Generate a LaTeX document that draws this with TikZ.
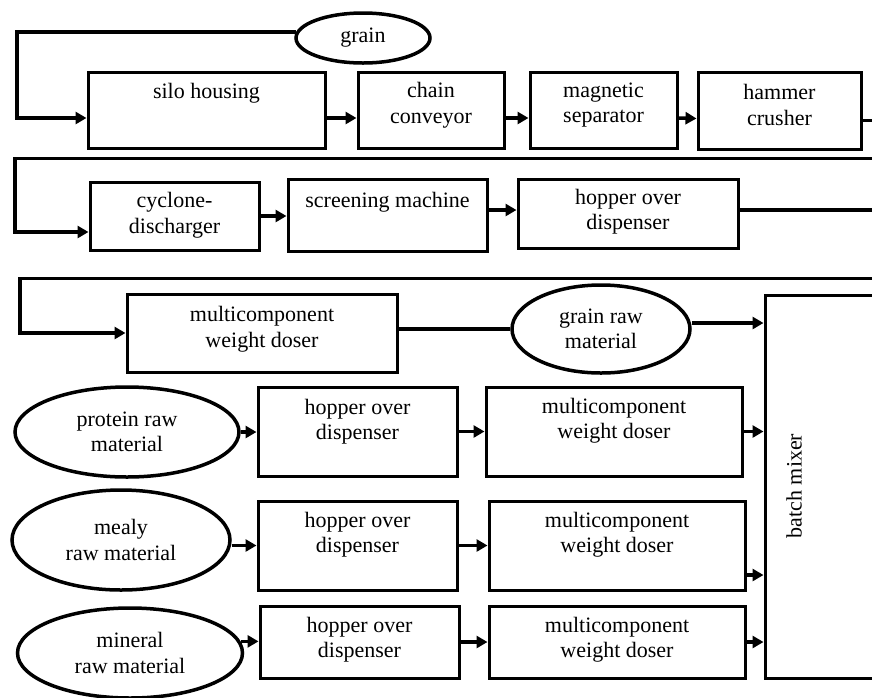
\documentclass[tikz,border=0pt]{standalone}
\usepackage{fontspec}
\setmainfont{Liberation Serif}
\usetikzlibrary{shapes.geometric,arrows.meta}
\begin{document}
\begin{tikzpicture}[x=1pt,y=-1pt,
  box/.style={draw, line width=3pt, rectangle, inner sep=0pt},
  oval/.style={draw, line width=3.5pt, ellipse, inner sep=0pt, align=center,
    font=\fontsize{22}{25.5}\selectfont},
  txt/.style={align=center, inner sep=0pt, font=\fontsize{22}{25.5}\selectfont},
  flow/.style={line width=3.5pt, -{Triangle[length=11pt,width=12pt]}},
  link/.style={line width=3.5pt}]
\useasboundingbox (0,0) rectangle (872,697);
\clip (0,0) rectangle (872,697);
\fill[white] (0,0) rectangle (872,697);

% helper coordinates for the return lines
\coordinate (k1) at (17,0);
\coordinate (r1) at (880,0);
\coordinate (l2) at (15,158.5);
\coordinate (l3) at (20,278.5);

% ---- first line of machines
\node[oval, minimum width=134pt, minimum height=50pt] (grain) at (363,38) {grain};
\node[box, minimum width=237pt, minimum height=76pt] (silo) at (206.5,110) {};
\node[txt] (silo-t) at (206.5,93) {silo housing};
\node[box, minimum width=146pt, minimum height=76pt] (chain) at (431,110) {};
\node[txt] (chain-t) at (431,105) {chain\\conveyor};
\node[box, minimum width=147pt, minimum height=76pt] (magnet) at (603.5,110) {};
\node[txt] (magnet-t) at (603.5,105) {magnetic\\separator};
\node[box, minimum width=163pt, minimum height=77pt] (hammer) at (779.5,110.5) {};
\node[txt] (hammer-t) at (779.5,105) {hammer\\crusher};

% ---- second line
\node[box, minimum width=169pt, minimum height=68pt] (cyclone) at (174.5,216) {};
\node[txt] (cyclone-t) at (174.5,215) {cyclone-\\discharger};
\node[box, minimum width=199pt, minimum height=72pt] (screen) at (387.5,215) {};
\node[txt] (screen-t) at (387.5,202) {screening machine};
\node[box, minimum width=220pt, minimum height=69pt] (hopper1) at (628,213.5) {};
\node[txt] (hopper1-t) at (628,211.5) {hopper over\\dispenser};

% ---- third line
\node[box, minimum width=270pt, minimum height=78pt] (doser1) at (262,333) {};
\node[txt] (doser1-t) at (262,329) {multicomponent\\weight doser};
\node[oval, minimum width=178pt, minimum height=88pt] (grainraw) at (601,329) {grain raw\\material};

% ---- batch mixer
\node[box, minimum width=120pt, minimum height=383pt] (mixer) at (825,486.5) {};
\node[txt, rotate=90] (mixer-t) at (794,486) {batch mixer};

% ---- additive lines
\node[oval, minimum width=224pt, minimum height=90pt] (protein) at (127,432) {protein raw\\material};
\node[box, minimum width=199pt, minimum height=89pt] (hopper2) at (357.5,431.5) {};
\node[txt] (hopper2-t) at (357.5,421.5) {hopper over\\dispenser};
\node[box, minimum width=256pt, minimum height=89pt] (doser2) at (614,431.5) {};
\node[txt] (doser2-t) at (614,420.5) {multicomponent\\weight doser};

\node[oval, minimum width=218pt, minimum height=100pt] (mealy) at (121,540) {mealy\\raw material};
\node[box, minimum width=199pt, minimum height=89pt] (hopper3) at (357.5,545.5) {};
\node[txt] (hopper3-t) at (357.5,534.5) {hopper over\\dispenser};
\node[box, minimum width=256pt, minimum height=89pt] (doser3) at (617,545.5) {};
\node[txt] (doser3-t) at (617,534.5) {multicomponent\\weight doser};

\node[oval, minimum width=225pt, minimum height=90pt] (mineral) at (130,653) {mineral\\raw material};
\node[box, minimum width=199pt, minimum height=72pt] (hopper4) at (359.5,642) {};
\node[txt] (hopper4-t) at (359.5,639.5) {hopper over\\dispenser};
\node[box, minimum width=256pt, minimum height=72pt] (doser4) at (617,642) {};
\node[txt] (doser4-t) at (617,639.5) {multicomponent\\weight doser};

% ---- connectors, first line
\draw[flow] (grain.175) -- (grain.175 -| k1) |- ([yshift=-8pt]silo.west);
\draw[flow] ([yshift=-8pt]silo.east) -- ([yshift=-8pt]chain.west);
\draw[flow] ([yshift=-8pt]chain.east) -- ([yshift=-8pt]magnet.west);
\draw[flow] ([yshift=-8pt]magnet.east) -- ([yshift=-8pt]hammer.west);
\draw[flow] ([yshift=-10pt]hammer.east) -- ([yshift=-10pt]hammer.east -| r1)
  |- (l2) |- ([yshift=-16pt]cyclone.west);

% ---- connectors, second line
\draw[flow] (cyclone.east) -- (cyclone.east -| screen.west);
\draw[flow] ([yshift=5pt]screen.east) -- ([yshift=5pt]screen.east -| hopper1.west);
\draw[flow] ([yshift=3.5pt]hopper1.east) -- ([yshift=3.5pt]hopper1.east -| r1)
  |- (l3) |- (doser1.west);

% ---- connectors, third line
\draw[link] (doser1.east |- grainraw.west) -- (grainraw.west);
\draw[flow] ([yshift=6pt]grainraw.east) -- ([yshift=6pt]grainraw.east -| mixer.west);

% ---- connectors, additive lines
\draw[flow] (protein.east) -- (protein.east -| hopper2.west);
\draw[flow] (hopper2.east) -- (doser2.west);
\draw[flow] (doser2.east) -- (doser2.east -| mixer.west);

\draw[flow] (mealy.east |- hopper3.west) -- (hopper3.west);
\draw[flow] (hopper3.east) -- (doser3.west);
\draw[flow] ([yshift=-29.5pt]doser3.east) -- ([yshift=-29.5pt]doser3.east -| mixer.west);

\draw[flow] (mineral.6) -- (mineral.6 -| hopper4.west);
\draw[flow] (hopper4.east) -- (doser4.west);
\draw[flow] (doser4.east) -- (doser4.east -| mixer.west);
\end{tikzpicture}
\end{document}
